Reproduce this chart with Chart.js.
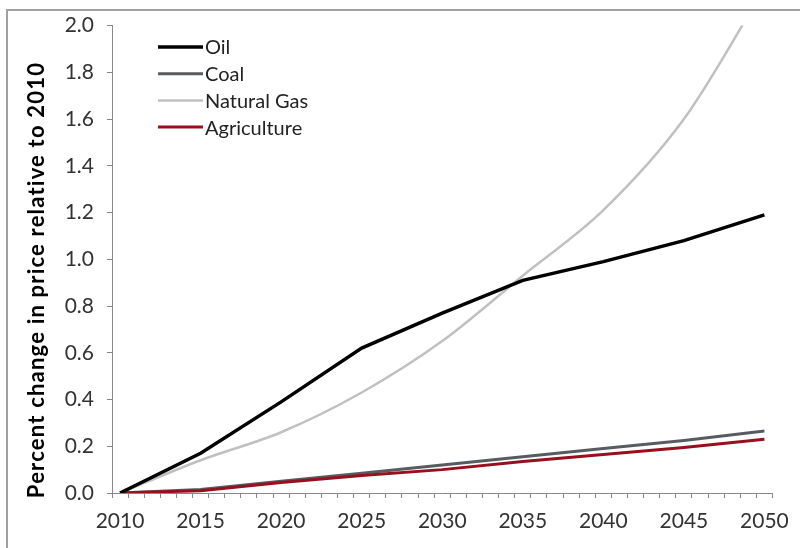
<!DOCTYPE html>
<html>
<head>
<meta charset="utf-8">
<script src="https://cdn.jsdelivr.net/npm/chart.js@4.4.1/dist/chart.umd.min.js"></script>
<style>
  html, body { margin: 0; padding: 0; background: #ffffff; }
  #wrap { width: 800px; height: 548px; position: relative; }
</style>
</head>
<body>
<div id="wrap"><canvas id="c" width="800" height="548"></canvas></div>
<script>
// ---- data ----
const YEARS       = [2010, 2015, 2020, 2025, 2030, 2035, 2040, 2045, 2050];
const OIL         = [0.00, 0.17, 0.39, 0.62, 0.77, 0.91, 0.99, 1.08, 1.19];
const COAL        = [0.00, 0.015, 0.05, 0.085, 0.12, 0.155, 0.19, 0.225, 0.265];
const NATURAL_GAS = [0.00, 0.14, 0.26, 0.43, 0.65, 0.93, 1.21, 1.60, 2.16];
const AGRICULTURE = [0.00, 0.01, 0.045, 0.075, 0.10, 0.135, 0.165, 0.195, 0.23];
const SERIES_NAMES = ['Oil', 'Coal', 'Natural Gas', 'Agriculture'];
const X_TICK_YEARS = [2010,2011,2012,2013,2014,2015,2016,2017,2018,2019,2020,2021,2022,2023,2024,2025,2026,2027,2028,2029,2030,2031,2032,2033,2034,2035,2036,2037,2038,2039,2040,2041,2042,2043,2044,2045,2046,2047,2048,2049,2050];
const X_LABEL_YEARS = [2010, 2015, 2020, 2025, 2030, 2035, 2040, 2045, 2050];
const Y_TICKS = [0.0, 0.2, 0.4, 0.6, 0.8, 1.0, 1.2, 1.4, 1.6, 1.8, 2.0];
const Y_TITLE = 'Percent change in price relative to 2010';

const STYLES = [
  { color: '#000000', width: 3.5, order: 0, mode: 'default' },
  { color: '#585c60', width: 3,   order: 2, mode: 'default' },
  { color: '#c0c0c0', width: 2.5, order: 3, mode: 'monotone' },
  { color: '#980f1f', width: 3,   order: 1, mode: 'default' }
];
const VALUES = [OIL, COAL, NATURAL_GAS, AGRICULTURE];

const datasets = SERIES_NAMES.map((name, k) => ({
  label: name,
  data: YEARS.map((yr, i) => ({ x: yr, y: VALUES[k][i] })),
  borderColor: STYLES[k].color,
  backgroundColor: STYLES[k].color,
  borderWidth: STYLES[k].width,
  order: STYLES[k].order,
  cubicInterpolationMode: STYLES[k].mode,
  pointRadius: 0,
  tension: 0,
  fill: false,
  clip: 0
}));

const FONT = 'Lato, "Open Sans", sans-serif';

const frame = {
  id: 'frame',
  beforeDraw(chart) {
    const ctx = chart.ctx;
    ctx.save();
    ctx.fillStyle = '#ffffff';
    ctx.fillRect(0, 0, chart.width, chart.height);
    ctx.strokeStyle = '#a0a0a0';
    ctx.lineWidth = 2;
    ctx.beginPath();
    ctx.moveTo(7, 548);
    ctx.lineTo(7, 10);
    ctx.lineTo(800, 10);
    ctx.stroke();
    ctx.restore();
  },
  afterDraw(chart) {
    const ctx = chart.ctx;
    ctx.save();
    ctx.translate(37, 280);
    ctx.rotate(-Math.PI / 2);
    ctx.fillStyle = '#000000';
    ctx.font = 'bold 22px ' + FONT;
    if ('letterSpacing' in ctx) ctx.letterSpacing = '1.2px';
    ctx.textAlign = 'center';
    ctx.textBaseline = 'middle';
    ctx.fillText(Y_TITLE, 0, 0);
    ctx.restore();
  }
};

const legendBox = {
  id: 'legendBox',
  afterDraw(chart) {
    const ctx = chart.ctx;
    ctx.save();
    const x0 = 158, x1 = 203, yStart = 47, dy = 26.7;
    chart.data.datasets.forEach((ds, i) => {
      const y = yStart + i * dy;
      ctx.strokeStyle = ds.borderColor;
      ctx.lineWidth = ds.borderWidth;
      ctx.beginPath();
      ctx.moveTo(x0, y);
      ctx.lineTo(x1, y);
      ctx.stroke();
      ctx.fillStyle = '#222222';
      ctx.font = '20px ' + FONT;
      ctx.textBaseline = 'middle';
      ctx.textAlign = 'left';
      ctx.fillText(ds.label, x1 + 2, y + 1);
    });
    ctx.restore();
  }
};

new Chart(document.getElementById('c'), {
  type: 'line',
  data: { datasets },
  plugins: [frame, legendBox],
  options: {
    responsive: false,
    animation: false,
    devicePixelRatio: 1,
    layout: { padding: { left: 21, right: 17, top: 25, bottom: 0 } },
    plugins: { legend: { display: false }, tooltip: { enabled: false } },
    scales: {
      x: {
        type: 'linear',
        min: 2009.5,
        max: 2050.5,
        afterBuildTicks(axis) { axis.ticks = X_TICK_YEARS.map(v => ({ value: v })); },
        afterFit(axis) { axis.height = 548 - 493; },
        grid: { drawOnChartArea: false, offset: true, tickLength: 5, color: '#888888', lineWidth: 1 },
        border: { display: true, color: '#888888', width: 1 },
        ticks: {
          autoSkip: false, maxRotation: 0, minRotation: 0, padding: 11,
          color: '#333333', font: { family: FONT, size: 21 },
          callback: (v) => X_LABEL_YEARS.includes(v) ? String(v) : ''
        }
      },
      y: {
        min: 0,
        max: 2.0,
        afterBuildTicks(axis) { axis.ticks = Y_TICKS.map(v => ({ value: v })); },
        afterFit(axis) { axis.width = 112 - 21; },
        grid: { drawOnChartArea: false, tickLength: 5, color: '#888888', lineWidth: 1 },
        border: { display: true, color: '#888888', width: 1 },
        ticks: {
          padding: 13, color: '#333333', font: { family: FONT, size: 21 },
          callback: (v) => Number(v).toFixed(1)
        },
        title: { display: false }
      }
    }
  }
});
</script>
</body>
</html>
